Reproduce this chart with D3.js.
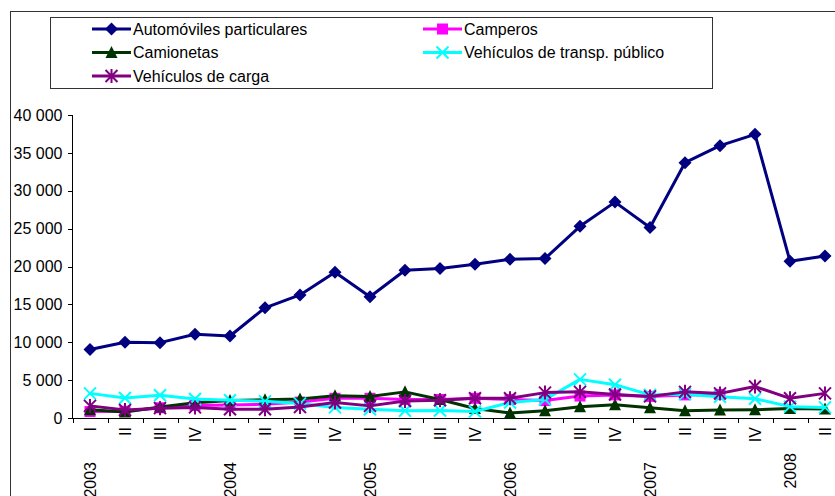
<!DOCTYPE html>
<html>
<head>
<meta charset="utf-8">
<script src="https://cdn.jsdelivr.net/npm/d3@7"></script>
<style>
  body { margin: 0; background: #fff; }
  svg { display: block; font-family: Arial, "Liberation Sans", sans-serif; }
  .axis path, .axis line { stroke: #000; shape-rendering: crispEdges; }
  .axis text { font-size: 16px; fill: #000; }
</style>
</head>
<body>
<svg id="chart" width="835" height="496"></svg>
<script>
// quarters 2003 I .. 2008 II
const quarters = ["I","II","III","IV","I","II","III","IV","I","II","III","IV",
  "I","II","III","IV","I","II","III","IV","I","II"];
const years = ["2003","2004","2005","2006","2007","2008"];

const automoviles = [9050, 10000, 9950, 11050, 10830, 14550, 16250, 19250, 16000, 19500, 19750,
  20300, 20950, 21050, 25300, 28500, 25150, 33700, 35950, 37450, 20700, 21400];
const camperos = [850, 900, 1350, 1650, 1700, 1800, 2100, 2600, 2600, 2450, 2450,
  2600, 2450, 2300, 2900, 3050, 2850, 3050, 3100, null, null, null];
const camionetas = [1100, 800, 1450, 2000, 2300, 2400, 2500, 2950, 2850, 3450, 2450,
  1250, 650, 950, 1500, 1750, 1350, 950, 1050, 1100, 1250, 1200];
const transpPublico = [3250, 2650, 3000, 2500, 2350, 2200, 1900, 1400, 1150, 950, 1000,
  850, 2050, 2450, 5100, 4400, 3050, 3150, 2800, 2550, 1500, 1400];
const carga = [1600, 1050, 1300, 1400, 1150, 1150, 1450, 2050, 1600, 2250, 2350,
  2600, 2600, 3350, 3450, 3100, 2850, 3450, 3250, 4150, 2600, 3250];

const yTicks = [0, 5000, 10000, 15000, 20000, 25000, 30000, 35000, 40000];

const series = [
  { name: "Automóviles particulares", values: automoviles, color: "#000080", marker: "diamond" },
  { name: "Camperos", values: camperos, color: "#ff00ff", marker: "square" },
  { name: "Camionetas", values: camionetas, color: "#003300", marker: "triangle" },
  { name: "Vehículos de transp. público", values: transpPublico, color: "#00ffff", marker: "cross" },
  { name: "Vehículos de carga", values: carga, color: "#800080", marker: "star" }
];

const svg = d3.select("#chart");

// outer frame
svg.append("rect")
  .attr("x", 10.5).attr("y", 11.5)
  .attr("width", 900).attr("height", 600)
  .attr("fill", "none").attr("stroke", "#333");

const x = d3.scaleBand()
  .domain(d3.range(quarters.length))
  .range([72.5, 72.5 + quarters.length * 35]);

const y = d3.scaleLinear()
  .domain([0, 40000])
  .range([418, 115]);

// y axis
svg.append("g")
  .attr("class", "axis")
  .attr("transform", "translate(72.5,0)")
  .call(d3.axisLeft(y)
    .tickValues(yTicks)
    .tickSize(5)
    .tickPadding(5)
    .tickFormat(d => d3.format(",")(d).replace(/,/g, " ")))
  .call(g => g.select(".domain").attr("d", "M0," + y(40000) + "V" + y(0)));

// x axis line + ticks between categories
const xg = svg.append("g").attr("class", "axis");
xg.append("line")
  .attr("x1", 72.5).attr("x2", 835)
  .attr("y1", 418.5).attr("y2", 418.5);
xg.selectAll(".xtick")
  .data(d3.range(quarters.length + 1))
  .join("line")
  .attr("class", "xtick")
  .attr("x1", i => Math.round(72.5 + i * x.step()) + 0.5)
  .attr("x2", i => Math.round(72.5 + i * x.step()) + 0.5)
  .attr("y1", 418).attr("y2", 423);

xg.selectAll(".qlabel")
  .data(quarters)
  .join("text")
  .attr("class", "qlabel")
  .attr("text-anchor", "end")
  .attr("dy", "0.35em")
  .attr("transform", (d, i) => `translate(${x(i) + x.bandwidth() / 2},427) rotate(-90)`)
  .text(d => d);

// year labels at the first quarter of each year
let yearStart = 0;
const yearPos = years.map(yr => {
  const n = quarters.slice(yearStart).findIndex((q, j) => j > 0 && q === "I");
  const count = n < 0 ? quarters.length - yearStart : n;
  const p = { year: yr, i: yearStart, count: count };
  yearStart += count;
  return p;
});
xg.selectAll(".ylabel")
  .data(yearPos)
  .join("text")
  .attr("class", "ylabel")
  .attr("text-anchor", "end")
  .attr("dy", "0.35em")
  .attr("transform", d => `translate(${x(d.i) + x.bandwidth() / 2},${d.count < 4 ? 453 : 462}) rotate(-90)`)
  .text(d => d.year);

// markers
function drawMarker(sel, type, color) {
  if (type === "diamond") {
    sel.append("path").attr("d", "M0,-6.5L6.5,0L0,6.5L-6.5,0Z").attr("fill", color);
  } else if (type === "square") {
    sel.append("rect").attr("x", -5.5).attr("y", -5.5).attr("width", 11).attr("height", 11).attr("fill", color);
  } else if (type === "triangle") {
    sel.append("path").attr("d", "M0,-6.5L6,5.5L-6,5.5Z").attr("fill", color);
  } else if (type === "cross") {
    sel.append("path").attr("d", "M-6,-6L6,6M-6,6L6,-6")
      .attr("stroke", color).attr("stroke-width", 2).attr("fill", "none");
  } else if (type === "star") {
    sel.append("path").attr("d", "M-6,-6L6,6M-6,6L6,-6M0,-7V7")
      .attr("stroke", color).attr("stroke-width", 2).attr("fill", "none");
  }
}

const line = d3.line()
  .defined(d => d != null)
  .x((d, i) => x(i) + x.bandwidth() / 2)
  .y(d => y(d));

const plot = svg.append("g");
series.forEach(s => {
  const g = plot.append("g");
  g.append("path")
    .datum(s.values)
    .attr("d", line)
    .attr("fill", "none")
    .attr("stroke", s.color)
    .attr("stroke-width", 3)
    .attr("stroke-linejoin", "round");
  g.selectAll(".m")
    .data(s.values.map((v, i) => ({ v, i })).filter(d => d.v != null))
    .join("g")
    .attr("class", "m")
    .attr("transform", d => `translate(${x(d.i) + x.bandwidth() / 2},${y(d.v)})`)
    .each(function () { drawMarker(d3.select(this), s.marker, s.color); });
});

// legend
const legend = svg.append("g");
legend.append("rect")
  .attr("x", 50.5).attr("y", 17.5)
  .attr("width", 662).attr("height", 71)
  .attr("fill", "#fff").attr("stroke", "#333");

const legCols = [92, 423];
const legRows = [29, 52.5, 76];
series.forEach((s, k) => {
  const lx = legCols[k % 2], ly = legRows[Math.floor(k / 2)];
  const g = legend.append("g").attr("transform", `translate(${lx},${ly})`);
  g.append("line").attr("x1", 0).attr("x2", 39).attr("y1", 0).attr("y2", 0)
    .attr("stroke", s.color).attr("stroke-width", 3);
  const m = g.append("g").attr("transform", "translate(19.5,0)");
  drawMarker(m, s.marker, s.color);
  g.append("text")
    .attr("x", 41).attr("dy", "0.35em")
    .attr("font-size", 16)
    .text(s.name);
});
</script>
</body>
</html>
